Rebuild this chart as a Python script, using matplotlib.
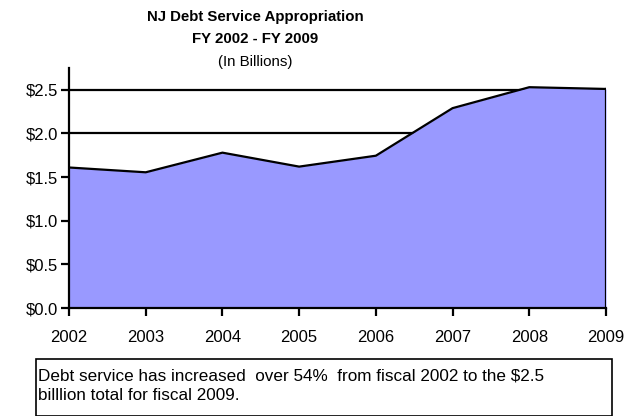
import numpy as np
import matplotlib
matplotlib.use("Agg")
import matplotlib.pyplot as plt
from matplotlib.patches import Rectangle

plt.rcParams['font.family'] = ['Liberation Sans', 'DejaVu Sans']

# data (in billions)
years = [2002, 2003, 2004, 2005, 2006, 2007, 2008, 2009]
debt = [1.61, 1.555, 1.78, 1.62, 1.745, 2.29, 2.53, 2.51]
yticks = [0.0, 0.5, 1.0, 1.5, 2.0, 2.5]
ylabels = ["$0.0", "$0.5", "$1.0", "$1.5", "$2.0", "$2.5"]

W, H = 638, 416
fig = plt.figure(figsize=(W/100, H/100), dpi=100)
# axes: x 69..606, y 68..308 (pixels from top)
ax = fig.add_axes([69/W, 1-308/H, (606-69)/W, (308-68)/H])

x = np.arange(len(years))
for g in [2.0, 2.5]:
    ax.axhline(g, color="black", lw=1.6, zorder=1)
ax.fill_between(x, debt, 0, color="#9999FF", zorder=2, lw=0)
ax.plot(x, debt, color="black", lw=1.6, zorder=3)
ax.plot([x[-1], x[-1]], [0, debt[-1]], color="black", lw=1.6, zorder=3)

ax.set_xlim(0, len(years)-1)
ax.set_ylim(0, 2.75)
ax.set_yticks(yticks)
ax.set_yticklabels(ylabels, fontsize=12)
ax.set_xticks(x)
ax.set_xticklabels([str(y) for y in years], fontsize=12)
ax.tick_params(axis='y', length=6, width=1.6, pad=2)
ax.tick_params(axis='x', length=6, width=1.6, pad=10)
for s in ["top", "right"]:
    ax.spines[s].set_visible(False)
for s in ["left", "bottom"]:
    ax.spines[s].set_linewidth(1.6)
    ax.spines[s].set_zorder(4)

fig.text(255/W, 1-17/H, "NJ Debt Service Appropriation", ha="center", va="center",
         fontsize=10.8, fontweight="bold")
fig.text(255/W, 1-39/H, "FY 2002 - FY 2009", ha="center", va="center",
         fontsize=10.8, fontweight="bold")
fig.text(255/W, 1-62/H, "(In Billions)", ha="center", va="center", fontsize=10.8)

# note box
box = Rectangle((36/W, 0/H), (612-36)/W, (H-359)/H, transform=fig.transFigure,
                fill=False, edgecolor="black", lw=1.2)
fig.patches.append(box)
fig.text(38/W, 1-376/H, "Debt service has increased  over 54%  from fiscal 2002 to the $2.5",
         ha="left", va="center", fontsize=12.3)
fig.text(38/W, 1-395/H, "billlion total for fiscal 2009.", ha="left", va="center", fontsize=12.3)

fig.savefig("out.png", dpi=100)
